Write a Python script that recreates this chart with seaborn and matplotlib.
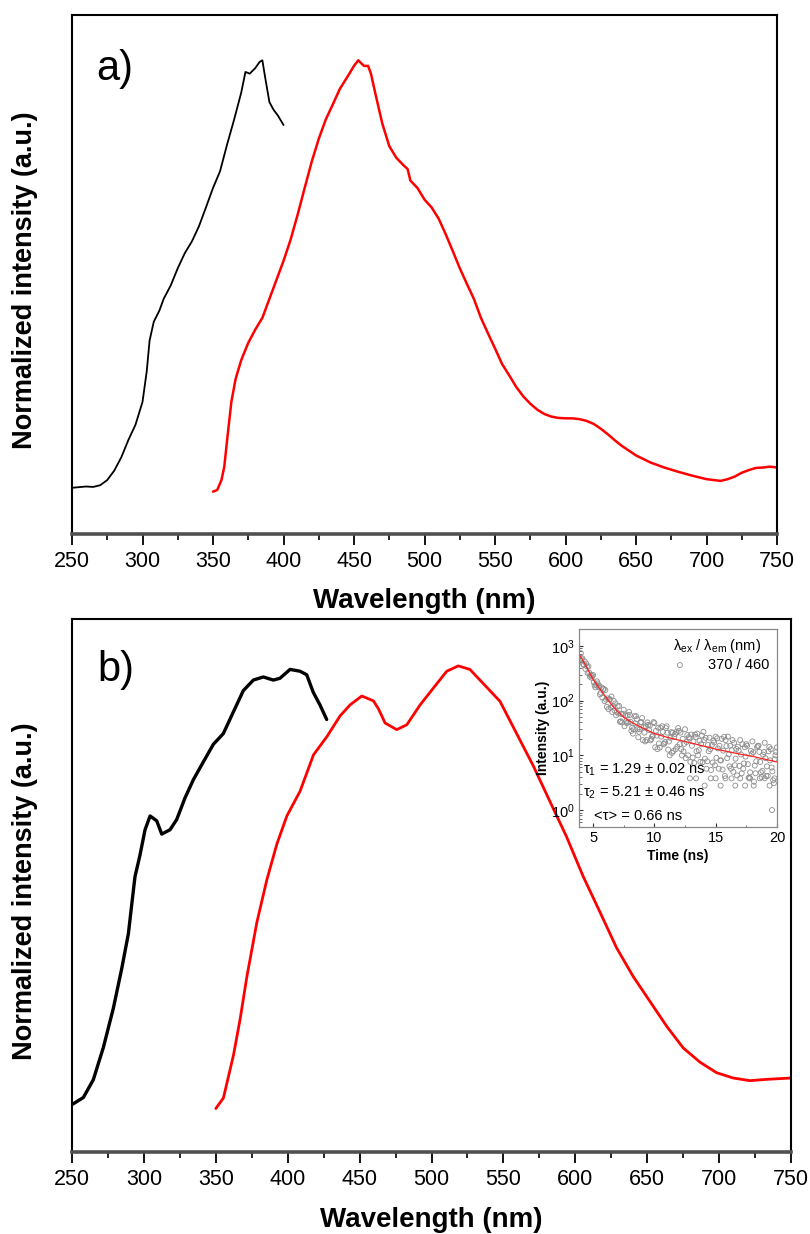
import numpy as np
import matplotlib
matplotlib.use('Agg')
import matplotlib.pyplot as plt
import seaborn as sns
from matplotlib.ticker import MultipleLocator, LogLocator, NullFormatter, NullLocator, LogFormatterMathtext

# ---------------- data ----------------
# panel a : excitation (black) and emission (red)
a_exc_wl = [250, 260, 265, 270, 275, 280, 285, 290, 295, 300, 303, 305, 308, 312, 315, 320, 325, 330,
            335, 340, 345, 350, 355, 360, 365, 370, 373, 376, 380, 383, 385, 387, 390, 393, 396, 400]
a_exc_int = [0.009, 0.012, 0.011, 0.015, 0.027, 0.049, 0.080, 0.120, 0.155, 0.208, 0.279, 0.350, 0.394,
             0.420, 0.447, 0.478, 0.518, 0.553, 0.580, 0.615, 0.659, 0.704, 0.743, 0.805, 0.863, 0.925,
             0.973, 0.969, 0.982, 0.996, 1.000, 0.960, 0.903, 0.885, 0.872, 0.850]

a_em_wl = [350, 353, 356, 358, 360, 363, 366, 370, 375, 380, 385, 390, 395, 400, 405, 410, 415, 420, 425,
           430, 435, 440, 445, 450, 453, 457, 460, 462, 465, 470, 475, 480, 485, 488, 490, 495, 500, 505,
           510, 515, 520, 525, 530, 535, 540, 545, 550, 555, 560, 565, 570, 575, 580, 585, 590, 595, 600,
           605, 610, 615, 620, 625, 630, 635, 640, 645, 650, 660, 670, 680, 690, 700, 705, 710, 715, 720,
           725, 730, 735, 740, 745, 750]
a_em_int = [0.000, 0.004, 0.027, 0.058, 0.120, 0.208, 0.261, 0.305, 0.345, 0.376, 0.403, 0.447, 0.491,
            0.535, 0.584, 0.642, 0.704, 0.765, 0.818, 0.863, 0.898, 0.934, 0.960, 0.987, 1.000, 0.987,
            0.987, 0.969, 0.925, 0.854, 0.801, 0.774, 0.757, 0.748, 0.721, 0.704, 0.677, 0.659, 0.633,
            0.597, 0.558, 0.518, 0.482, 0.447, 0.403, 0.367, 0.332, 0.296, 0.270, 0.243, 0.221, 0.204,
            0.190, 0.180, 0.174, 0.171, 0.170, 0.170, 0.168, 0.164, 0.157, 0.146, 0.133, 0.119, 0.106,
            0.095, 0.084, 0.068, 0.056, 0.046, 0.037, 0.029, 0.027, 0.025, 0.029, 0.035, 0.044, 0.050,
            0.055, 0.056, 0.058, 0.056]

# panel b : excitation (black) and emission (red)
b_exc_wl = [250, 257.9, 264.8, 271.8, 278.7, 284.5, 289.2, 291.5, 293.8, 297.3, 300.8, 304.3, 308.9,
            312.4, 318.2, 322.8, 328.6, 334.4, 341.3, 348.3, 355.2, 362.2, 369.1, 376.1, 383.0, 390.0,
            394.6, 401.6, 408.5, 413.2, 417.8, 422.4, 427.1]
b_exc_int = [0.009, 0.025, 0.065, 0.138, 0.226, 0.315, 0.395, 0.460, 0.524, 0.573, 0.630, 0.661, 0.650,
             0.620, 0.630, 0.653, 0.702, 0.743, 0.783, 0.823, 0.847, 0.896, 0.944, 0.968, 0.975, 0.968,
             0.972, 0.992, 0.988, 0.980, 0.940, 0.912, 0.879]

b_em_wl = [350, 355.3, 362.3, 366.9, 371.6, 378.5, 385.5, 392.4, 399.4, 408.6, 417.9, 427.2, 436.4, 443.4,
           451.5, 459.6, 463.1, 467.7, 475.8, 482.8, 492.1, 501.3, 510.6, 518.6, 526.7, 536.0, 547.6,
           559.2, 570.8, 582.3, 593.9, 605.5, 617.1, 628.7, 640.3, 651.9, 663.5, 675.0, 686.6, 698.2,
           709.8, 721.4, 733.0, 750.0]
b_em_int = [0.000, 0.024, 0.121, 0.202, 0.298, 0.420, 0.517, 0.597, 0.661, 0.717, 0.799, 0.840, 0.887,
            0.912, 0.932, 0.921, 0.903, 0.871, 0.856, 0.867, 0.912, 0.950, 0.988, 1.000, 0.992, 0.960,
            0.920, 0.847, 0.774, 0.694, 0.614, 0.524, 0.444, 0.363, 0.298, 0.242, 0.186, 0.137, 0.105,
            0.081, 0.069, 0.063, 0.066, 0.069]

# inset : decay counts (open circles) on four interleaved time grids, and the fit
decay_t1 = np.arange(4.0, 20.01, 0.25)
decay_t2 = np.arange(4.0625, 19.9, 0.25)
decay_t3 = np.arange(4.125, 19.9, 0.25)
decay_t4 = np.arange(4.1875, 19.99, 0.25)
decay_i1 = [736, 450, 420, 273, 294, 195, 187, 114, 156, 70, 119, 66, 79, 42, 68, 39, 55, 25, 52, 27,
            48, 18, 36, 20, 39, 13, 32, 16, 34, 10, 26, 13, 28, 10, 30, 10, 24, 7.3, 25, 7.6, 27, 5.7,
            21, 7.4, 22, 5.7, 20, 4.2, 22, 5.7, 17, 4.3, 19, 5.7, 16, 3.9, 18, 4.7, 15, 4.0, 17, 4.2,
            13, 3.1, 14]
decay_i2 = [570, 522, 319, 293, 216, 225, 130, 163, 104, 106, 62, 89, 58, 57, 34, 54, 41, 30, 46, 30,
            19, 34, 29, 22, 14, 32, 22, 16.5, 26, 21, 12, 27, 16, 20, 8.9, 21.5, 15, 24, 10, 16, 19,
            7.8, 13, 18.6, 9, 15, 5.5, 19, 10.4, 12.4, 6.6, 14.4, 10.4, 7.1, 15, 4.9, 11.4, 7.8, 11.6,
            5.2, 8.9, 11.9, 6.0, 8.5]
decay_i3 = [593, 380, 422, 262, 190, 206, 140, 163, 77, 106, 79, 54, 80, 40, 53, 40, 28, 52, 30, 40,
            32.5, 19, 35, 23, 28, 16.5, 34, 17.5, 12.7, 26.5, 21.7, 14.4, 26, 11.8, 17.6, 20.4, 9.1,
            21.6, 12.4, 23, 8.7, 15.5, 5.4, 17.2, 20.5, 8.1, 12.2, 14.8, 6.3, 19, 8.7, 12.2, 4.7, 14.1,
            6.9, 12.1, 3.3, 14.1, 7.6, 10.3, 4.2, 14.2, 5.1, 10]
decay_i4 = [466, 476, 323, 281, 175, 178, 175, 98, 110, 75, 99, 62, 41, 57, 42, 62, 32, 38.5, 21.4,
            40.6, 26, 40, 18.8, 40.5, 23, 13.9, 26.9, 31.5, 17.9, 11.1, 24.5, 31.5, 13, 16.2, 23.5, 7.6,
            18, 11.9, 18.5, 7.5, 20.9, 11.9, 15.5, 6.6, 13.4, 8.1, 21.8, 8.9, 15, 5, 13.1, 6.4, 16, 9.5,
            3.9, 10.6, 6.5, 14.9, 4.9, 11.5, 6.3, 8.1, 3.5, 11.5]
floor_t = [12.9, 13.4, 14.1, 14.6, 15.0, 15.4, 15.8, 16.3, 16.6, 17.0, 17.4, 17.8, 18.1, 18.6, 19.0,
           19.4, 19.6, 19.8]
floor_i = [3.8, 3.8, 2.8, 3.8, 3.8, 2.8, 3.8, 3.8, 2.8, 3.8, 2.8, 3.8, 2.8, 3.8, 3.8, 2.8, 1.0, 3.8]

fit_t = [3.95, 4.25, 4.5, 4.75, 5.0, 5.5, 6.0, 6.5, 7.0, 7.5, 8.0, 9.0, 10.0, 11.0, 12.0, 13.0, 14.0,
         15.0, 16.0, 17.0, 18.0, 19.0, 20.0]
fit_i = [660, 500, 400, 310, 245, 170, 120, 85, 63, 50, 42, 32, 25, 21.5, 19, 16.8, 14.8, 13, 11.7,
         10.5, 9.6, 8.5, 7.6]

x_ticks = [250, 300, 350, 400, 450, 500, 550, 600, 650, 700, 750]

# ---------------- style ----------------
sns.set_style('ticks')
plt.rcParams['font.family'] = ['Liberation Sans', 'DejaVu Sans']
plt.rcParams['mathtext.fontset'] = 'custom'
plt.rcParams['mathtext.rm'] = 'Liberation Sans'
plt.rcParams['mathtext.it'] = 'Liberation Sans:italic'
plt.rcParams['mathtext.bf'] = 'Liberation Sans:bold'
plt.rcParams['text.color'] = 'black'
plt.rcParams['axes.labelcolor'] = 'black'
plt.rcParams['xtick.color'] = 'black'
plt.rcParams['ytick.color'] = 'black'

fig = plt.figure(figsize=(8.1, 12.34), dpi=100)
axA = fig.add_axes([0.0889, 0.5673, 0.8704, 0.4209])
axB = fig.add_axes([0.0889, 0.0665, 0.8877, 0.4319])
axI = fig.add_axes([0.7148, 0.3298, 0.2444, 0.1605])

sns.lineplot(x=a_exc_wl, y=a_exc_int, ax=axA, color='black', lw=1.3, estimator=None, sort=False)
sns.lineplot(x=a_em_wl, y=a_em_int, ax=axA, color='#ff0000', lw=1.8, estimator=None, sort=False)
sns.lineplot(x=b_exc_wl, y=b_exc_int, ax=axB, color='black', lw=2.4, estimator=None, sort=False)
sns.lineplot(x=b_em_wl, y=b_em_int, ax=axB, color='#ff0000', lw=2.0, estimator=None, sort=False)


def style_main(ax, label, label_y, xlab_y, ylab_x, ylab_y):
    ax.set_xlim(250, 750)
    ax.set_ylim(-0.098, 1.106)
    ax.set_xticks(x_ticks)
    ax.set_xticklabels([str(v) for v in x_ticks])
    ax.xaxis.set_minor_locator(MultipleLocator(25))
    ax.yaxis.set_major_locator(NullLocator())
    ax.yaxis.set_minor_locator(NullLocator())
    ax.tick_params(axis='x', which='major', direction='out', length=8, width=1.3,
                   labelsize=15.5, pad=4, top=False, colors='black')
    ax.tick_params(axis='x', which='minor', direction='out', length=4.5, width=1.2, top=False,
                   colors='black')
    for s in ['left', 'right', 'top']:
        ax.spines[s].set_linewidth(1.5)
        ax.spines[s].set_color('black')
    ax.spines['bottom'].set_linewidth(2.6)
    ax.spines['bottom'].set_color('#505050')
    ax.set_xlabel('Wavelength (nm)', fontsize=20, fontweight='bold', color='black')
    ax.xaxis.set_label_coords(0.5, xlab_y)
    ax.set_ylabel('Normalized intensity (a.u.)', fontsize=19.5, fontweight='bold', color='black')
    ax.yaxis.set_label_coords(ylab_x, ylab_y)
    ax.text(0.035, label_y, label, transform=ax.transAxes, fontsize=30, va='center', ha='left',
            color='black')


style_main(axA, 'a)', 0.895, -0.104, -0.048, 0.488)
style_main(axB, 'b)', 0.905, -0.103, -0.047, 0.49)

# ---------------- inset ----------------
mk = dict(marker='o', facecolor='none', edgecolor='#8c8c8c', s=13, linewidth=0.6)
sns.scatterplot(x=decay_t1, y=decay_i1, ax=axI, label='370 / 460', **mk)
sns.scatterplot(x=decay_t2, y=decay_i2, ax=axI, **mk)
sns.scatterplot(x=decay_t3, y=decay_i3, ax=axI, **mk)
sns.scatterplot(x=decay_t4, y=decay_i4, ax=axI, **mk)
sns.scatterplot(x=floor_t, y=floor_i, ax=axI, **mk)
sns.lineplot(x=fit_t, y=fit_i, ax=axI, color='#ff2020', lw=0.9, estimator=None, sort=False)

axI.set_yscale('log')
axI.set_xlim(3.85, 20)
axI.set_ylim(10 ** -0.31, 10 ** 3.31)
axI.set_xticks([5, 10, 15, 20])
axI.xaxis.set_minor_locator(MultipleLocator(2.5))
axI.yaxis.set_major_locator(LogLocator(base=10, numticks=10))
axI.yaxis.set_major_formatter(LogFormatterMathtext())
axI.yaxis.set_minor_locator(LogLocator(base=10, subs=np.arange(2, 10), numticks=10))
axI.yaxis.set_minor_formatter(NullFormatter())
axI.tick_params(axis='both', which='major', direction='in', length=3, width=0.8, labelsize=10.5,
                pad=3, colors='#333333', labelcolor='black')
axI.tick_params(axis='both', which='minor', direction='in', length=1.8, width=0.6, colors='#555555')
for s in axI.spines.values():
    s.set_linewidth(0.9)
    s.set_color('#8a8a8a')
axI.set_xlabel('Time (ns)', fontsize=10, fontweight='bold', labelpad=3)
axI.set_ylabel('Intensity (a.u.)', fontsize=10, fontweight='bold', labelpad=1)

leg = axI.legend(title=r'λ$_{\rm ex}$ / λ$_{\rm em}$ (nm)', loc='upper right', frameon=False,
                 fontsize=10.5, title_fontsize=10.5, handletextpad=0.9, borderpad=0.25,
                 labelspacing=0.2, markerscale=1.0, borderaxespad=0.3)

axI.text(0.02, 0.288, r'τ$_1$ = 1.29 ± 0.02 ns', transform=axI.transAxes, fontsize=10.5, va='center')
axI.text(0.02, 0.172, r'τ$_2$ = 5.21 ± 0.46 ns', transform=axI.transAxes, fontsize=10.5, va='center')
axI.text(0.076, 0.055, '<τ> = 0.66 ns', transform=axI.transAxes, fontsize=10.5, va='center')

fig.savefig('out.png', dpi=100)
